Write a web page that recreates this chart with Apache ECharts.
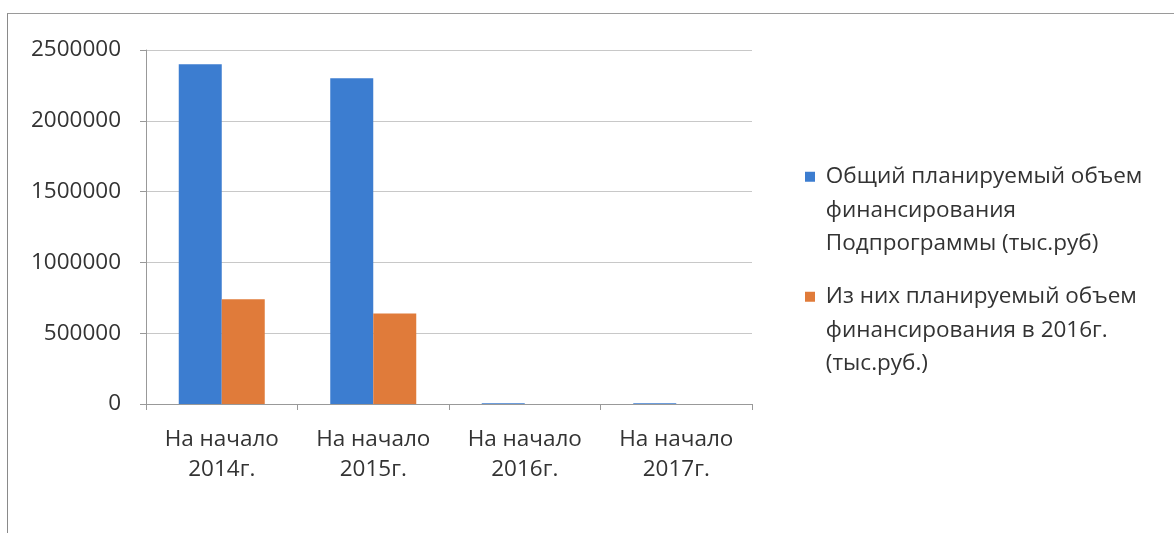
<!DOCTYPE html>
<html><head><meta charset="utf-8">
<script src="https://cdn.jsdelivr.net/npm/echarts@6/dist/echarts.min.js"></script>
<style>
html,body{margin:0;padding:0;background:#fff;}
#wrap{position:relative;width:1174px;height:533px;overflow:hidden;}
#frame{position:absolute;left:7px;top:13px;width:1170px;height:530px;border-left:1.5px solid #8a8a8a;border-top:1.5px solid #9a9a9a;box-sizing:border-box;}
#chart{position:absolute;left:0;top:0;width:1174px;height:533px;}
</style></head>
<body><div id="wrap"><div id="frame"></div><div id="chart"></div></div>
<script>
const categories = ['На начало\n2014г.', 'На начало\n2015г.', 'На начало\n2016г.', 'На начало\n2017г.'];
const seriesNames = ['Общий планируемый объем\nфинансирования\nПодпрограммы (тыс.руб)', 'Из них планируемый объем\nфинансирования в 2016г.\n(тыс.руб.)'];
const totalPlanned = [2400000, 2300000, 5000, 5000];
const planned2016 = [740000, 640000, 0, 0];
const yTicks = { min: 0, max: 2500000, interval: 500000 };

const font = '"Open Sans", "Noto Sans", sans-serif';
const txt = '#333';
const chart = echarts.init(document.getElementById('chart'));
const legendBase = {
  orient: 'vertical', left: 805, padding: 0, icon: 'rect', itemWidth: 10, itemHeight: 10, itemGap: 0,
  selectedMode: false,
  formatter: function (name) {
    return '\n\n' + name.split('\n').map(function (s) { return ' ' + s; }).join('\n');
  },
  textStyle: { fontFamily: font, fontSize: 22.5, color: txt, lineHeight: 33.5 }
};
chart.setOption({
  animation: false,
  color: ['#3c7dd0', '#e07b3a'],
  legend: [
    Object.assign({}, legendBase, { top: 93, data: [seriesNames[0]] }),
    Object.assign({}, legendBase, { top: 213, data: [seriesNames[1]] })
  ],
  grid: { left: 146, right: 422, top: 50, bottom: 129 },
  xAxis: {
    type: 'category', data: categories,
    axisLine: { lineStyle: { color: '#999', width: 1 } },
    axisTick: { show: true, length: 6, lineStyle: { color: '#999' } },
    axisLabel: { fontFamily: font, fontSize: 22.5, color: txt, lineHeight: 30, margin: 21 }
  },
  yAxis: {
    type: 'value', min: yTicks.min, max: yTicks.max, interval: yTicks.interval,
    axisLine: { show: true, lineStyle: { color: '#999', width: 1 } },
    axisTick: { show: true, length: 6, lineStyle: { color: '#999' } },
    splitLine: { lineStyle: { color: '#c8c8c8', width: 1 } },
    axisLabel: { fontFamily: font, fontSize: 22.5, color: txt, margin: 25, formatter: function (v) { return String(v); } }
  },
  series: [
    { name: seriesNames[0], type: 'bar', data: totalPlanned, barWidth: 43, barGap: '0%' },
    { name: seriesNames[1], type: 'bar', data: planned2016, barWidth: 43, barGap: '0%' }
  ]
});
</script></body></html>
